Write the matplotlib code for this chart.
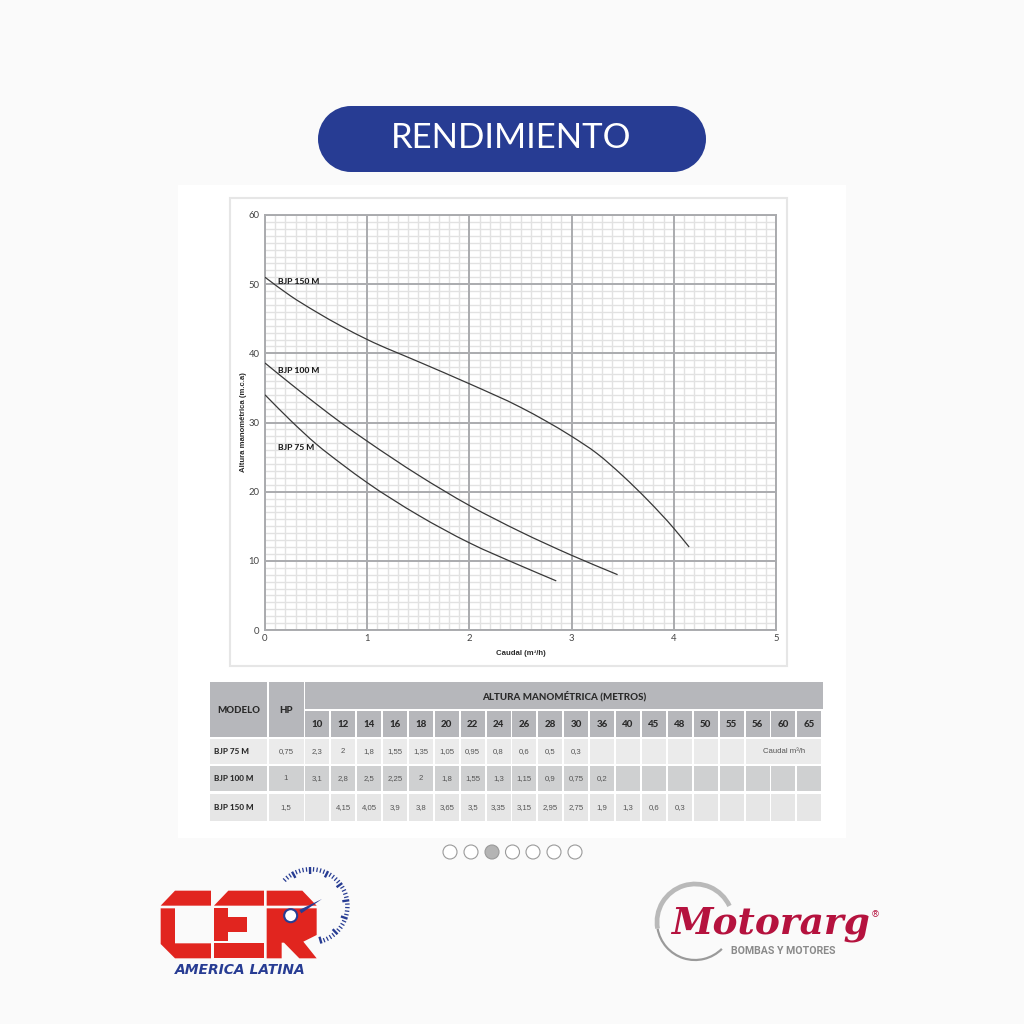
import numpy as np
import matplotlib
matplotlib.use("Agg")
import matplotlib.pyplot as plt
from matplotlib.patches import Rectangle, Polygon, Circle, Arc, PathPatch
from matplotlib.path import Path

# curves
q_75 = [0, 0.25, 0.5, 0.75, 1, 1.5, 2, 2.5, 2.85]
h_75 = [34, 30.3, 26.9, 24, 21.3, 16.6, 12.6, 9.3, 7.1]
q_100 = [0, 0.25, 0.5, 0.75, 1, 1.5, 2, 2.5, 3, 3.45]
h_100 = [38.6, 35.6, 32.7, 29.9, 27.3, 22.4, 18, 14.2, 10.8, 8]
q_150 = [0, 0.25, 0.5, 0.75, 1, 1.5, 2, 2.5, 2.75, 3, 3.25, 3.5, 3.75, 4, 4.15]
h_150 = [51, 48.3, 46, 43.9, 42, 38.8, 35.6, 32.2, 30.2, 28, 25.5, 22.3, 18.7, 14.7, 12]

# table
alturas = ["10", "12", "14", "16", "18", "20", "22", "24", "26", "28", "30", "36",
           "40", "45", "48", "50", "55", "56", "60", "65"]
modelos = ["BJP 75 M", "BJP 100 M", "BJP 150 M"]
hp = ["0,75", "1", "1,5"]
caudal_75 = ["2,3", "2", "1,8", "1,55", "1,35", "1,05", "0,95", "0,8", "0,6", "0,5", "0,3"]
caudal_100 = ["3,1", "2,8", "2,5", "2,25", "2", "1,8", "1,55", "1,3", "1,15", "0,9", "0,75", "0,2"]
caudal_150 = ["", "4,15", "4,05", "3,9", "3,8", "3,65", "3,5", "3,35", "3,15", "2,95", "2,75",
              "1,9", "1,3", "0,6", "0,3"]

BG = "#fafafa"
BLUE = "#273c93"
RED = "#e1251f"
GREY_HEAD = "#b6b7bb"
TEXT = "#2b2b2b"
MAJOR = "#aaabae"


def smooth_curve(ax, xs, ys, **kw):
    # bezier through the read points, slope from the neighbours
    xs = np.array(xs, dtype=float)
    ys = np.array(ys, dtype=float)
    slopes = np.gradient(ys, xs)
    verts = [(xs[0], ys[0])]
    codes = [Path.MOVETO]
    for i in range(len(xs) - 1):
        dx = (xs[i + 1] - xs[i]) / 3
        verts += [(xs[i] + dx, ys[i] + slopes[i] * dx),
                  (xs[i + 1] - dx, ys[i + 1] - slopes[i + 1] * dx),
                  (xs[i + 1], ys[i + 1])]
        codes += [Path.CURVE4] * 3
    ax.add_patch(PathPatch(Path(verts, codes), fill=False, zorder=3, **kw))


fig = plt.figure(figsize=(10.24, 10.24), dpi=100, facecolor=BG)

# overlay in pixel coordinates for the card, table and logos
pg = fig.add_axes([0, 0, 1, 1], zorder=0)
pg.set_xlim(0, 1024)
pg.set_ylim(1024, 0)
pg.axis("off")

pg.add_patch(Rectangle((351, 106), 322, 66, fc=BLUE, ec="none"))
pg.add_patch(Circle((351, 139), 33, fc=BLUE, ec="none"))
pg.add_patch(Circle((673, 139), 33, fc=BLUE, ec="none"))
pg.text(511, 138, "RENDIMIENTO", color="white", fontsize=25, family="Lato",
        ha="center", va="center")

pg.add_patch(Rectangle((178, 185), 668, 653, fc="white", ec="none"))
pg.add_patch(Rectangle((229.5, 197.5), 557, 468, fc="white", ec="#e6e6e6", lw=1.5))

# chart
ax = fig.add_axes([265 / 1024, 1 - 630 / 1024, (776 - 265) / 1024, (630 - 215) / 1024], zorder=2)
ax.patch.set_alpha(0)
ax.set_xlim(0, 5)
ax.set_ylim(0, 60)
ax.set_xticks(range(0, 6))
ax.set_yticks(range(0, 61, 10))
ax.set_xticks(np.arange(0, 5.01, 0.1), minor=True)
ax.set_yticks(range(0, 61), minor=True)
ax.grid(which="minor", color="#e2e2e2", lw=1.0)
ax.set_axisbelow(True)
# major lines by hand, axis draws minor ticks on top otherwise
for v in range(0, 6):
    ax.axvline(v, color=MAJOR, lw=1.4, zorder=1.5)
for v in range(0, 61, 10):
    ax.axhline(v, color=MAJOR, lw=1.4, zorder=1.5)
ax.tick_params(which="both", length=0)
ax.tick_params(axis="y", which="major", labelsize=6.8, labelcolor="#444444", pad=4)
ax.tick_params(axis="x", which="major", labelsize=6.8, labelcolor="#444444", pad=3)
for s in ax.spines.values():
    s.set_color(MAJOR)
    s.set_linewidth(1.4)
for lab in ax.get_xticklabels() + ax.get_yticklabels():
    lab.set_family("Lato")
ax.set_xlabel("Caudal (m³/h)", fontsize=5.6, fontweight="bold", family="Liberation Sans",
              color=TEXT, labelpad=5)
ax.set_ylabel("Altura manométrica (m.c.a)", fontsize=5.6, fontweight="bold",
              family="Liberation Sans", color=TEXT, labelpad=1)

for xs, ys in [(q_75, h_75), (q_100, h_100), (q_150, h_150)]:
    smooth_curve(ax, xs, ys, ec="#383838", lw=0.9)

for name, x, y in [("BJP 150 M", 0.13, 50.4), ("BJP 100 M", 0.13, 37.5), ("BJP 75 M", 0.13, 26.4)]:
    ax.text(x, y, name, fontsize=6.1, fontweight=900, family="Lato", color="#1c1c1c",
            ha="left", va="center", zorder=4)

# table
col_x0 = 305.2
col_w = 25.9
row_tops = [739, 766, 794]
row_hs = [25, 25, 27]
row_cols = ["#ebebeb", "#cfd0d1", "#e6e6e6"]

pg.add_patch(Rectangle((210, 682), 57, 55, fc=GREY_HEAD, ec="none"))
pg.add_patch(Rectangle((269, 682), 34.5, 55, fc=GREY_HEAD, ec="none"))
pg.add_patch(Rectangle((305.2, 682), 517.8, 26.5, fc=GREY_HEAD, ec="none"))
pg.text(238.5, 710.5, "MODELO", fontsize=6.9, fontweight=900, family="Lato", color=TEXT,
        ha="center", va="center")
pg.text(286, 710.5, "HP", fontsize=6.9, fontweight=900, family="Lato", color=TEXT,
        ha="center", va="center")
pg.text(564, 696, "ALTURA MANOMÉTRICA (METROS)", fontsize=7.0, fontweight=900, family="Lato",
        color=TEXT, ha="center", va="center")

for i, a in enumerate(alturas):
    x = col_x0 + i * col_w
    pg.add_patch(Rectangle((x, 711), col_w - 1.9, 26, fc=GREY_HEAD, ec="none"))
    pg.text(x + 12, 724.5, a, fontsize=7.0, fontweight=900, family="Lato", color=TEXT,
            ha="center", va="center")

caudales = [caudal_75, caudal_100, caudal_150]
for r in range(3):
    top, h, c = row_tops[r], row_hs[r], row_cols[r]
    ymid = top + h / 2
    pg.add_patch(Rectangle((210, top), 57, h, fc=c, ec="none"))
    pg.add_patch(Rectangle((269, top), 34.5, h, fc=c, ec="none"))
    pg.text(213.5, ymid, modelos[r], fontsize=5.9, fontweight=900, family="Lato",
            color=TEXT, ha="left", va="center")
    pg.text(286, ymid, hp[r], fontsize=5.6, family="Liberation Sans", color="#555555",
            ha="center", va="center")
    for i in range(len(alturas)):
        x = col_x0 + i * col_w
        if r == 0 and i >= 17:
            continue
        pg.add_patch(Rectangle((x, top), col_w - 1.9, h, fc=c, ec="none"))
        if i < len(caudales[r]) and caudales[r][i]:
            pg.text(x + 12, ymid, caudales[r][i], fontsize=5.6, family="Liberation Sans",
                    color="#555555", ha="center", va="center")

pg.add_patch(Rectangle((col_x0 + 17 * col_w, 739), 3 * col_w - 1.9, 25, fc="#ebebeb", ec="none"))
pg.text(col_x0 + 18.5 * col_w, 751.5, "Caudal m³/h", fontsize=5.6, family="Liberation Sans",
        color="#555555", ha="center", va="center")

# carousel dots
for i, x in enumerate([450, 471, 492, 512.5, 533, 554, 575]):
    pg.add_patch(Circle((x, 852), 7, fc="#b4b4b4" if i == 2 else "white", ec="#9a9a9a", lw=0.8))


# CER logo, outlines taken from the 3x zoom
def cer(points, **kw):
    pg.add_patch(Polygon([(140 + a / 3, 840 + b / 3) for a, b in points], closed=True, ec="none", **kw))


for shape in [
    [(62, 197), (105, 152), (213, 152), (213, 197)],
    [(62, 205), (105, 205), (105, 310), (213, 310), (213, 355), (105, 355), (62, 312)],
    [(222, 197), (265, 152), (372, 152), (372, 197)],
    [(222, 205), (265, 205), (265, 232), (320, 232), (320, 276), (265, 276), (265, 302), (222, 302)],
    [(222, 310), (372, 310), (372, 355), (222, 355)],
    [(380, 152), (487, 152), (530, 197), (380, 197)],
    [(380, 205), (530, 205), (530, 285), (490, 305), (530, 355), (478, 355), (432, 308),
     (425, 308), (425, 355), (380, 355)],
]:
    cer(shape, fc=RED)

pg.add_patch(Circle((140 + 452 / 3, 840 + 227 / 3), 6.5, fc="white", ec=BLUE, lw=1.5))
cer([(478, 210), (546, 177), (484, 220)], fc=BLUE)

cx, cy, rad = 140 + 512 / 3, 840 + 198 / 3, 39.0
for k, ang in enumerate(np.arange(-74, 136, 5.5)):
    t = np.radians(ang)
    long_tick = k % 5 == 0
    r0 = rad - (7 if long_tick else 4.5)
    pg.plot([cx + r0 * np.cos(t), cx + rad * np.cos(t)], [cy - r0 * np.sin(t), cy - rad * np.sin(t)],
            color=BLUE, lw=1.7 if long_tick else 0.9, solid_capstyle="butt")
pg.text(240, 970.5, "AMERICA LATINA", fontsize=10, fontweight="bold", style="italic",
        family="DejaVu Sans", color=BLUE, ha="center", va="center")

# Motorarg logo, y axis is flipped so the arc angles are too
pg.add_patch(Arc((695, 922), 76, 76, theta1=45, theta2=170, color="#9a9a9a", lw=1.6))
pg.add_patch(Arc((695, 922), 76, 76, theta1=170, theta2=335, color="#b9b9b9", lw=3.4))
pg.text(771, 923, "Motorarg", fontsize=27, fontweight="bold", style="italic", family="DejaVu Serif",
        color="#b5123e", ha="center", va="center")
pg.text(875.5, 914.5, "®", fontsize=6.5, color="#b5123e", ha="center", va="center")
pg.text(783.5, 951, "BOMBAS Y MOTORES", fontsize=7.6, fontweight="bold", family="Roboto",
        color="#8a8a8a", ha="center", va="center")

fig.savefig("out.png", dpi=100, facecolor=BG)
